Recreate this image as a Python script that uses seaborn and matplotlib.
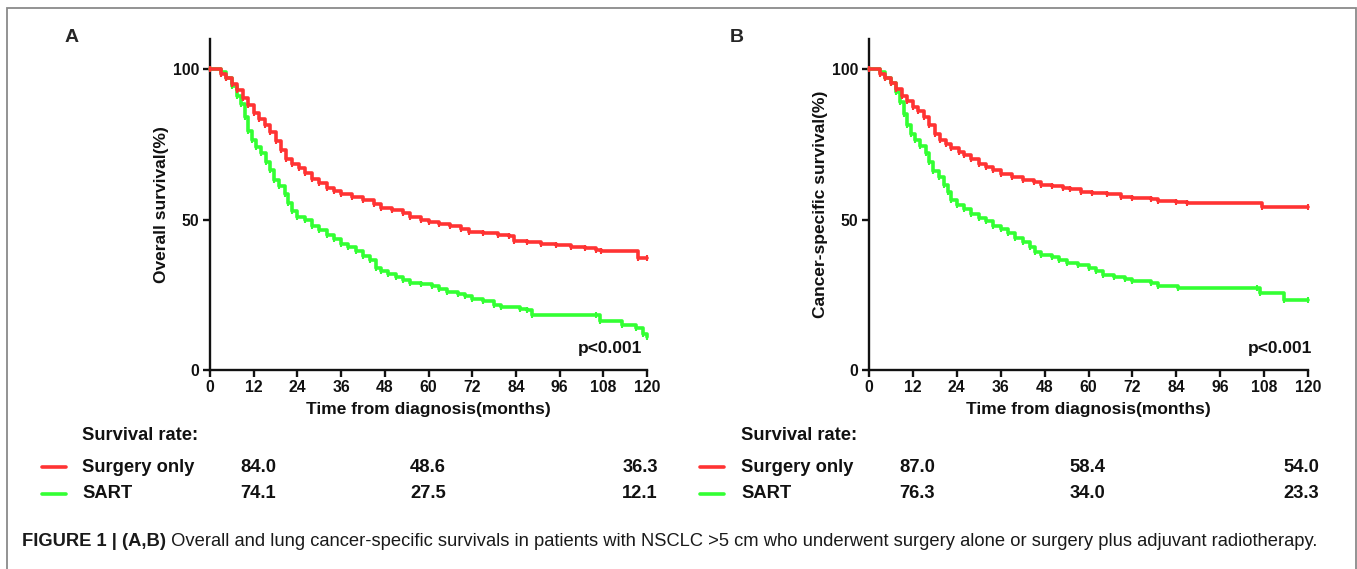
import numpy as np
import pandas as pd
import matplotlib
matplotlib.use("Agg")
import matplotlib.pyplot as plt
import seaborn as sns
from matplotlib.lines import Line2D
from matplotlib.patches import Rectangle

# ---------------- data ----------------
groups = ["Surgery only", "SART"]
colors = {"Surgery only": "#FF3333", "SART": "#33FF33"}
xticks = [0, 12, 24, 36, 48, 60, 72, 84, 96, 108, 120]
yticks = [0, 50, 100]

# Panel A: overall survival (%)
a_surg_t = [0, 3, 4.5, 6, 7.5, 9, 10.5, 12, 13.5, 15, 16.5, 18, 19.5, 21, 22.5, 24.5, 26, 28, 30, 32, 34, 36,
            39, 42, 45, 47, 50, 53, 55, 58, 60, 63, 66, 69, 71, 75, 79, 82, 83.5, 87, 91, 95, 99, 103, 106,
            107.5, 117.5, 120]
a_surg_s = [100, 98.5, 97, 95, 93, 90.5, 88, 85.5, 83.5, 81.5, 79, 76, 73, 70, 68.5, 67, 65.5, 63.5, 62, 60.5,
            59.5, 58.5, 57.5, 56.5, 55.2, 54, 53.3, 52.3, 51, 50, 49.2, 48.5, 47.8, 46.8, 46, 45.6, 45, 44.4, 43,
            42.5, 42, 41.5, 40.9, 40.4, 40, 39.6, 37.2, 37.2]
a_sart_t = [0, 3, 4.5, 6, 7.5, 8.5, 9.5, 10.5, 11.5, 12.5, 14, 15.5, 16.5, 17.5, 19, 20.5, 21.5, 22.5, 24, 26,
            28, 30, 32, 34, 36, 38, 40, 42, 44, 45.5, 47, 49, 51, 53, 55, 58, 61, 63, 65, 68, 70, 72, 75, 78,
            80, 85, 87, 88.5, 106, 107, 113, 117, 119, 120]
a_sart_s = [100, 99, 97, 94.5, 91, 88.5, 84, 79.5, 76.5, 74, 72, 69, 66.5, 63, 61, 58.5, 55.5, 53, 51, 50, 48,
            46.5, 45, 43.5, 42, 41, 39.5, 38, 36.5, 34, 33, 32, 31, 30, 29, 28.5, 27.8, 27, 26, 25.2, 24.5,
            23.5, 22.8, 21.5, 21, 20.3, 19.8, 18.2, 18.2, 16.2, 15, 14, 12, 11]

# Panel B: cancer-specific survival (%)
b_surg_t = [0, 3, 4.5, 6, 7.5, 9, 10.5, 12, 13.5, 15, 16.5, 18, 19.5, 21, 22.5, 24.5, 26, 28, 30, 32, 34, 36,
            39, 42, 45, 47, 50, 53, 55, 58, 61, 65, 69, 72, 77, 79, 84, 87, 107.5, 120]
b_surg_s = [100, 98.5, 97, 95.5, 93.5, 91, 89.5, 87.5, 86, 84, 81.5, 78.5, 76.5, 75, 73.8, 72.5, 71.5, 70,
            68.5, 67.5, 66.5, 65.2, 64.2, 63.3, 62.5, 61.6, 61.2, 60.6, 60, 59.3, 58.8, 58.5, 57.6, 57.1,
            56.7, 56.2, 55.9, 55.4, 54.2, 54.2]
b_sart_t = [0, 3, 4.5, 6, 7.5, 8.5, 9.5, 10.5, 11.5, 12.5, 14, 15.5, 16.5, 17.5, 19, 20.5, 21.5, 22.5, 24, 26,
            28, 30, 32, 34, 36, 38, 40, 42, 44, 45.5, 47, 50, 52, 54, 57, 60, 62, 64, 67, 70, 72, 77, 79,
            84.5, 106, 107, 113.5, 120]
b_sart_s = [100, 99, 97, 95.5, 92.5, 89, 85, 81.5, 78.5, 76.5, 74.5, 72, 69, 66, 64, 61.5, 59, 56.5, 55,
            53.5, 52, 50.5, 49.5, 48, 47, 45.5, 44, 42.5, 40.8, 39.3, 38.2, 37.6, 36.5, 35.5, 35, 34, 32.8,
            31.5, 31, 30.2, 29.6, 29, 28, 27.3, 27.3, 25.6, 23.3, 23.3]

# survival rate table (1, 5, 10 years)
a_rates = {"Surgery only": ["84.0", "48.6", "36.3"], "SART": ["74.1", "27.5", "12.1"]}
b_rates = {"Surgery only": ["87.0", "58.4", "54.0"], "SART": ["76.3", "34.0", "23.3"]}

panel_labels = ["A", "B"]
ylabels = ["Overall survival(%)", "Cancer-specific survival(%)"]
xlabel = "Time from diagnosis(months)"
pval = "p<0.001"
caption_bold = "FIGURE 1 | (A,B)"
caption_rest = (" Overall and lung cancer-specific survivals in patients with NSCLC >5 cm who underwent "
                "surgery alone or surgery plus adjuvant radiotherapy.")

# ---------------- style ----------------
sns.set_style("ticks")
plt.rcParams["font.family"] = ["Liberation Sans", "DejaVu Sans"]

W, H = 1357, 569
fig = plt.figure(figsize=(W / 100, H / 100), dpi=100)


def fx(px):
    return px / W


def fy(py):
    return 1 - py / H


def make_df(st, ss, rt, rs):
    d1 = pd.DataFrame({"t": st, "s": ss, "g": "Surgery only"})
    d2 = pd.DataFrame({"t": rt, "s": rs, "g": "SART"})
    return pd.concat([d2, d1], ignore_index=True)


panels = [
    (make_df(a_surg_t, a_surg_s, a_sart_t, a_sart_s), 210, 647),
    (make_df(b_surg_t, b_surg_s, b_sart_t, b_sart_s), 869, 1308),
]
top_px, bot_px = 39, 370

axes = []
for i, (df, lpx, rpx) in enumerate(panels):
    ax = fig.add_axes([fx(lpx), fy(bot_px), (rpx - lpx) / W, (bot_px - top_px) / H])
    axes.append(ax)
    for g in ["SART", "Surgery only"]:
        sub = df[df["g"] == g]
        sns.lineplot(data=sub, x="t", y="s", color=colors[g], drawstyle="steps-post",
                     estimator=None, sort=False, linewidth=2.6, marker="|", markersize=5,
                     markeredgewidth=1.5, markeredgecolor=colors[g], ax=ax, legend=False,
                     clip_on=False, zorder=3)
    ax.set_xlim(0, 120)
    ax.set_ylim(0, 110)
    ax.set_xticks(xticks)
    ax.set_yticks(yticks)
    sns.despine(ax=ax)
    for sp in ["left", "bottom"]:
        ax.spines[sp].set_linewidth(1.7)
        ax.spines[sp].set_color("#111111")
    ax.tick_params(direction="out", length=5, width=1.7, labelsize=11.3, pad=2.5, colors="#111111")
    for lab in ax.get_xticklabels() + ax.get_yticklabels():
        lab.set_fontweight("bold")
    ax.set_xlabel(xlabel, fontsize=12.5, fontweight="bold", labelpad=5, color="#111111")
    ax.set_ylabel(ylabels[i], fontsize=12.5, fontweight="bold", labelpad=3, color="#111111")
    ax.text(0.915 if i == 0 else 0.936, 0.066, pval, transform=ax.transAxes, ha="center",
            va="center", fontsize=12.5, fontweight="bold", color="#111111")

# panel labels
fig.text(fx(72), fy(38), panel_labels[0], fontsize=14, fontweight="bold", ha="center", va="center")
fig.text(fx(737), fy(38), panel_labels[1], fontsize=14, fontweight="bold", ha="center", va="center")

# survival rate tables
tables = [
    (a_rates, 42, 66, 82, [258, 428, 640]),
    (b_rates, 700, 724, 741, [917, 1087, 1301]),
]
row_y = {"Surgery only": 467, "SART": 494}
for rates, l0, l1, tx, cols in tables:
    fig.text(fx(tx), fy(436), "Survival rate:", fontsize=13.2, fontweight="bold", ha="left",
             va="center", color="#111111")
    for g in groups:
        y = row_y[g]
        fig.add_artist(Line2D([fx(l0), fx(l1)], [fy(y), fy(y)], color=colors[g], linewidth=2.6))
        fig.text(fx(tx), fy(y), g, fontsize=13.2, fontweight="bold", ha="left", va="center",
                 color="#111111")
        for cx, v in zip(cols, rates[g]):
            fig.text(fx(cx), fy(y), v, fontsize=13.2, fontweight="bold", ha="center", va="center",
                     color="#111111")

# caption
t1 = fig.text(fx(22), fy(546), caption_bold, fontsize=13.2, fontweight="bold", ha="left",
              va="baseline", color="#1a1a1a")
ann = plt.annotate(caption_rest, xy=(1, 0), xycoords=t1, xytext=(0, 0), textcoords="offset points",
                   fontsize=13.2, ha="left", va="bottom", color="#1a1a1a", annotation_clip=False)

# figure frame
fig.add_artist(Rectangle((fx(7), -0.05), (1355.5 - 7) / W, fy(8) + 0.05, transform=fig.transFigure,
                         fill=False, edgecolor="#8a8a8a", linewidth=1.3))

fig.savefig("out.png", dpi=100)
